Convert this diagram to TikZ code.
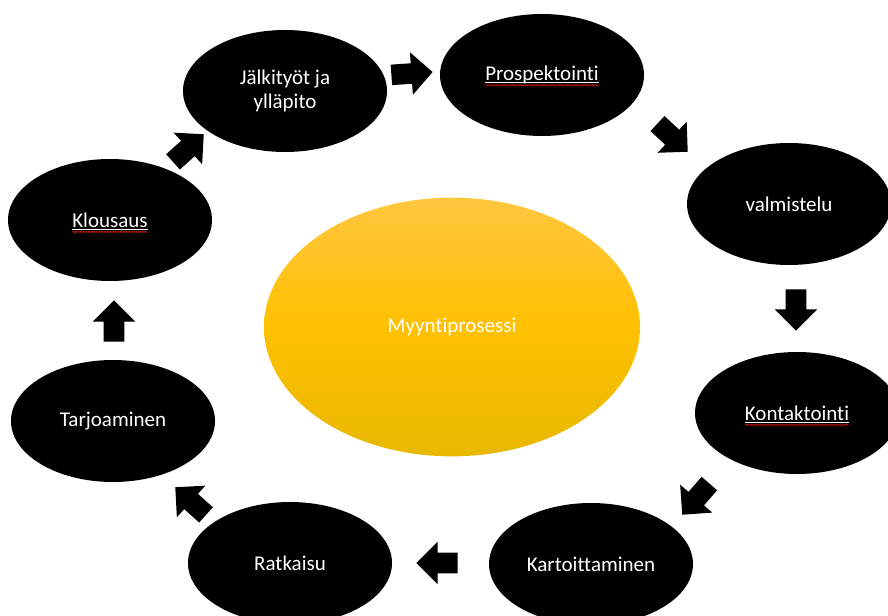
\documentclass[tikz,border=0pt]{standalone}
\usepackage{fontspec}
\setmainfont{Carlito}[Ligatures=NoCommon]
\usetikzlibrary{calc,shapes.geometric,shapes.arrows,decorations.pathmorphing}
\definecolor{goldtop}{RGB}{255,198,64}
\definecolor{goldmid}{RGB}{255,193,0}
\definecolor{goldbot}{RGB}{232,184,0}
\definecolor{spellred}{RGB}{210,20,20}
\tikzset{
	phase/.style={ellipse, fill=black, text=white, inner sep=0pt,
		minimum width=153pt, minimum height=91.5pt,
		font=\fontsize{15.75}{18}\selectfont},
	turn/.style={single arrow, fill=black, inner xsep=0pt, inner ysep=7.5pt,
		minimum height=31pt, single arrow head extend=8.25pt, anchor=tip},
}
\def\spellmark(#1){%
	\coordinate (#1L) at ([yshift=-1.6pt]#1.text);
	\coordinate (#1R) at ($(#1L)!2!(#1L -| #1.center)$);
	\draw[white, line width=0.7pt] (#1L) -- (#1R);
	\draw[spellred, line width=0.5pt, decorate, decoration={snake, amplitude=0.5pt, segment length=2pt}]
		([yshift=-1.9pt]#1L) -- ([yshift=-1.9pt]#1R);}

\begin{document}
\begin{tikzpicture}[x=0.75pt, y=-0.75pt]
		%%%%% START %%%%%
		\useasboundingbox (0, 0) rectangle (888, 616);
		\clip (0, 0) rectangle (888, 616);
		
		% centre
		\node[ellipse, minimum width=282pt, minimum height=194pt, inner sep=0pt,
			top color=goldtop, bottom color=goldbot, middle color=goldmid,
			text=white, font=\fontsize{15.75}{18}\selectfont] (myynti) at (452, 327) {Myyntiprosessi};
		
		% phases
		\node[phase, align=center] (jalki) at (285, 91) {Jälkityöt ja\\ylläpito};
		\node[phase] (pro) at (542, 75) {Prospektointi};
		\node[phase] (valm) at (789, 204) {valmistelu};
		\node[phase] (kont) at (797, 413) {Kontaktointi};
		\node[phase] (kart) at (591, 564) {Kartoittaminen};
		\node[phase] (ratk) at (290, 563) {Ratkaisu};
		\node[phase] (tarj) at (113, 421) {Tarjoaminen};
		\node[phase] (klous) at (110, 220) {Klousaus};
		
		\spellmark(pro)
		\spellmark(kont)
		\spellmark(klous)
		
		% arrows
		\node[turn, rotate=4] (a1) at (433, 72) {};
		\node[turn, rotate=-43] (a2) at (688, 152) {};
		\node[turn, rotate=-90] (a3) at (796, 331) {};
		\node[turn, rotate=-131] (a4) at (682, 515) {};
		\node[turn, rotate=180] (a5) at (416, 563) {};
		\node[turn, rotate=138] (a6) at (175, 487) {};
		\node[turn, rotate=90] (a7) at (114, 300) {};
		\node[turn, rotate=42] (a8) at (204, 134) {};
		
		%%%%% END %%%%%
	\end{tikzpicture}
\end{document}
